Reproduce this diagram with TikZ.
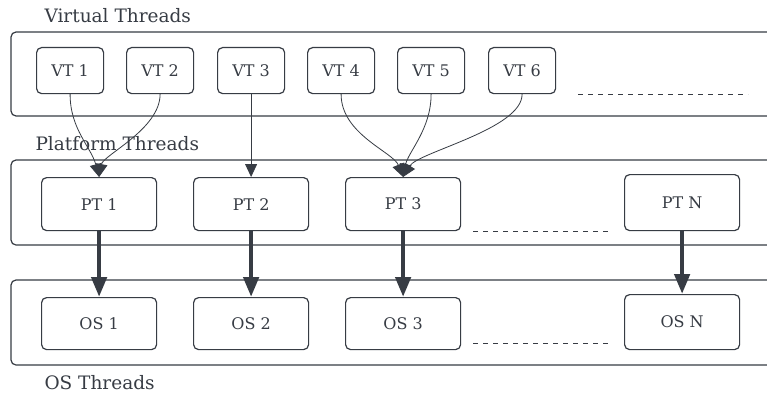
\documentclass[tikz,border=0pt]{standalone}
\usepackage{fontspec}
\setmainfont{DejaVu Serif}
\usetikzlibrary{arrows.meta}
\definecolor{ink}{HTML}{373C44}
\begin{document}
\begin{tikzpicture}[x=1pt,y=-1pt,
  container/.style={draw=ink,line width=1.2pt,rounded corners=5pt},
  thread/.style={draw=ink,line width=1.2pt,rounded corners=5pt,inner sep=0pt,text=ink,font=\fontsize{16}{18}\selectfont},
  lbl/.style={text=ink,anchor=west,font=\fontsize{18.5}{20}\selectfont},
  thin/.style={draw=ink,line width=0.8pt,-{Triangle[width=12pt,length=13pt]}},
  thick/.style={draw=ink,line width=4.5pt,-{Triangle[width=15pt,length=20pt]}},
  dots/.style={draw=ink,line width=1pt,dash pattern=on 5pt off 5pt}]
\useasboundingbox (0,0) rectangle (767,396);
\clip (0,0) rectangle (767,396);
\fill[white] (0,0) rectangle (767,396);
% containers
\draw[container] (11,32) rectangle (790,116);
\draw[container] (11,160) rectangle (790,245);
\draw[container] (11,280) rectangle (790,365);
% labels
\node[lbl] (lv) at (41,16) {Virtual Threads};
\node[lbl] (lp) at (32,144) {Platform Threads};
\node[lbl] (lo) at (41,383) {OS Threads};
% VT boxes
\foreach \n/\x in {1/36,2/126,3/217,4/307,5/397,6/488}{
  \node[thread,minimum width=67pt,minimum height=46pt,anchor=north west] (vt\n) at (\x,47) {VT \n};
}
% PT boxes
\node[thread,minimum width=115pt,minimum height=53pt,anchor=north west] (pt1) at (41,177) {PT 1};
\node[thread,minimum width=115pt,minimum height=53pt,anchor=north west] (pt2) at (193,177) {PT 2};
\node[thread,minimum width=115pt,minimum height=53pt,anchor=north west] (pt3) at (345,177) {PT 3};
\node[thread,minimum width=115pt,minimum height=56pt,anchor=north west] (ptn) at (624,174) {PT N};
% OS boxes
\node[thread,minimum width=115pt,minimum height=52pt,anchor=north west] (os1) at (41,297) {OS 1};
\node[thread,minimum width=115pt,minimum height=52pt,anchor=north west] (os2) at (193,297) {OS 2};
\node[thread,minimum width=115pt,minimum height=52pt,anchor=north west] (os3) at (345,297) {OS 3};
\node[thread,minimum width=115pt,minimum height=55pt,anchor=north west] (osn) at (624,294) {OS N};
% dashed ellipses
\coordinate (d1a) at (578,94); \coordinate (d1b) at (748,94);
\coordinate (d2a) at (473,231); \coordinate (d2b) at (612,231);
\coordinate (d3a) at (473,343); \coordinate (d3b) at (612,343);
\draw[dots] (d1a) -- (d1b);
\draw[dots] (d2a) -- (d2b);
\draw[dots] (d3a) -- (d3b);
% thin arrows
\draw[thin] (vt1.south) .. controls ([yshift=-35]vt1.south) and ([xshift=-8,yshift=30]pt1.north) .. (pt1.north);
\draw[thin] (vt2.south) .. controls ([yshift=-35]vt2.south) and ([xshift=4,yshift=22]pt1.north) .. (pt1.north);
\draw[thin] (vt3.south) -- (pt2.north);
\draw[thin] (vt4.south) .. controls ([yshift=-40]vt4.south) and ([xshift=-10,yshift=25]pt3.north) .. (pt3.north);
\draw[thin] (vt5.south) .. controls ([yshift=-35]vt5.south) and ([xshift=5,yshift=25]pt3.north) .. (pt3.north);
\draw[thin] (vt6.south) .. controls ([yshift=-35]vt6.south) and ([xshift=15,yshift=25]pt3.north) .. (pt3.north);
% thick arrows
\draw[thick] (pt1.south) -- (os1.north);
\draw[thick] (pt2.south) -- (os2.north);
\draw[thick] (pt3.south) -- (os3.north);
\draw[thick] (ptn.south) -- (osn.north);
\end{tikzpicture}
\end{document}
